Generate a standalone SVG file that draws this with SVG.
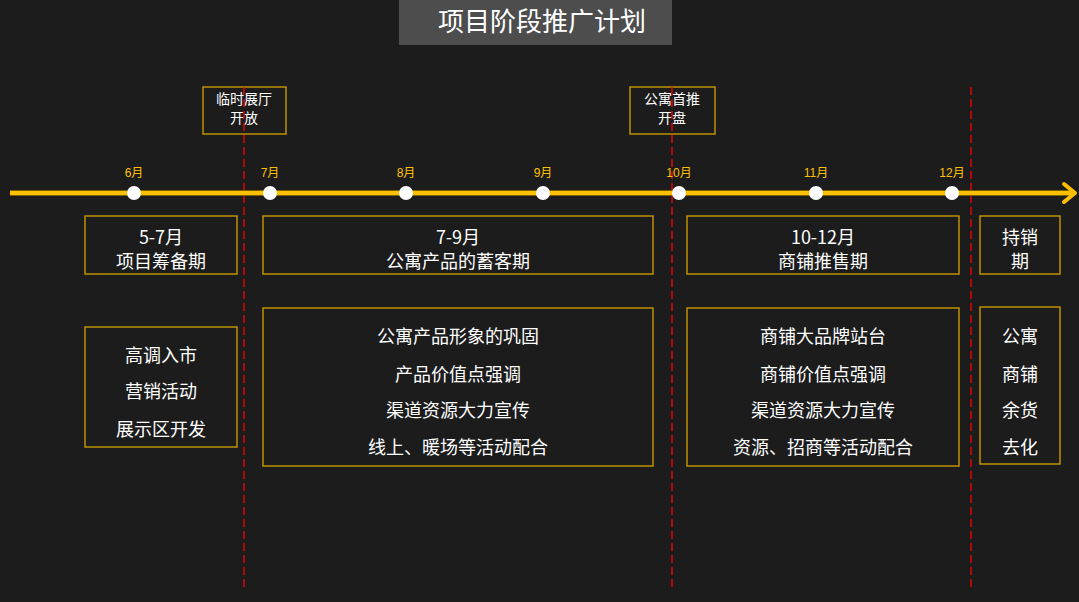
<svg xmlns="http://www.w3.org/2000/svg" width="1079" height="602" viewBox="0 0 1079 602">
<style>
.box{fill:#1c1c1c;stroke:#bf9000;stroke-width:1.5}
.t{fill:#ffffff;font-family:"Noto Sans CJK SC","Liberation Sans",sans-serif;text-anchor:middle}
.s14{font-size:14px}
.s18{font-size:18px}
.m{fill:#ffc000;font-family:"Liberation Sans","Noto Sans CJK SC",sans-serif;font-size:12px;text-anchor:middle}
.dash{stroke:#ff0000;stroke-width:1.3;stroke-dasharray:8 4;fill:none}
.dot{fill:#ffffff}
</style>
<rect width="1079" height="602" fill="#1c1c1c"/>
<g id="title">
<rect x="399" y="0" width="273" height="45" fill="#4d4d4d"/>
<text class="t" x="542" y="31" font-size="26">项目阶段推广计划</text>
</g>
<g id="milestone-1">
<rect class="box" x="203" y="87" width="83" height="47"/>
<text class="t s14" x="244" y="104">临时展厅</text>
<text class="t s14" x="244" y="123">开放</text>
</g>
<g id="milestone-2">
<rect class="box" x="630" y="87" width="85" height="47"/>
<text class="t s14" x="672" y="104">公寓首推</text>
<text class="t s14" x="672" y="123">开盘</text>
</g>
<g id="connectors">
<line class="dash" x1="244" y1="87" x2="244" y2="587"/>
<line class="dash" x1="672" y1="87" x2="672" y2="587"/>
<line class="dash" x1="971" y1="87" x2="971" y2="587"/>
</g>
<g id="timeline">
<line x1="10" y1="193" x2="1072" y2="193" stroke="#7f6000" stroke-width="6"/>
<line x1="10" y1="193" x2="1072" y2="193" stroke="#ffc000" stroke-width="4"/>
<polyline points="1064,184 1075,193 1064,202" fill="none" stroke="#ffc000" stroke-width="4" stroke-linecap="round" stroke-linejoin="round"/>
<circle class="dot" cx="134" cy="193" r="7"/>
<circle class="dot" cx="270" cy="193" r="7"/>
<circle class="dot" cx="406" cy="193" r="7"/>
<circle class="dot" cx="543" cy="193" r="7"/>
<circle class="dot" cx="679" cy="193" r="7"/>
<circle class="dot" cx="816" cy="193" r="7"/>
<circle class="dot" cx="952" cy="193" r="7"/>
<text class="m" x="134" y="177">6月</text>
<text class="m" x="270" y="177">7月</text>
<text class="m" x="406" y="177">8月</text>
<text class="m" x="543" y="177">9月</text>
<text class="m" x="679" y="177">10月</text>
<text class="m" x="816" y="177">11月</text>
<text class="m" x="952" y="177">12月</text>
</g>
<g id="phase-1">
<rect class="box" x="85" y="216" width="152" height="58"/>
<text class="t s18" x="161" y="244">5-7月</text>
<text class="t s18" x="161" y="268">项目筹备期</text>
</g>
<g id="phase-2">
<rect class="box" x="263" y="216" width="390" height="58"/>
<text class="t s18" x="458" y="244">7-9月</text>
<text class="t s18" x="458" y="268">公寓产品的蓄客期</text>
</g>
<g id="phase-3">
<rect class="box" x="687" y="216" width="272" height="58"/>
<text class="t s18" x="823" y="244">10-12月</text>
<text class="t s18" x="823" y="268">商铺推售期</text>
</g>
<g id="phase-4">
<rect class="box" x="980" y="216" width="80" height="58"/>
<text class="t s18" x="1020" y="244">持销</text>
<text class="t s18" x="1020" y="268">期</text>
</g>
<g id="detail-1">
<rect class="box" x="85" y="327" width="152" height="120"/>
<text class="t s18" x="161" y="362">高调入市</text>
<text class="t s18" x="161" y="398">营销活动</text>
<text class="t s18" x="161" y="436">展示区开发</text>
</g>
<g id="detail-2">
<rect class="box" x="263" y="308" width="390" height="158"/>
<text class="t s18" x="458" y="343">公寓产品形象的巩固</text>
<text class="t s18" x="458" y="381">产品价值点强调</text>
<text class="t s18" x="458" y="417">渠道资源大力宣传</text>
<text class="t s18" x="458" y="454">线上、暖场等活动配合</text>
</g>
<g id="detail-3">
<rect class="box" x="687" y="308" width="272" height="158"/>
<text class="t s18" x="823" y="343">商铺大品牌站台</text>
<text class="t s18" x="823" y="381">商铺价值点强调</text>
<text class="t s18" x="823" y="417">渠道资源大力宣传</text>
<text class="t s18" x="823" y="454">资源、招商等活动配合</text>
</g>
<g id="detail-4">
<rect class="box" x="980" y="307" width="80" height="157"/>
<text class="t s18" x="1020" y="343">公寓</text>
<text class="t s18" x="1020" y="381">商铺</text>
<text class="t s18" x="1020" y="417">余货</text>
<text class="t s18" x="1020" y="454">去化</text>
</g>
</svg>
